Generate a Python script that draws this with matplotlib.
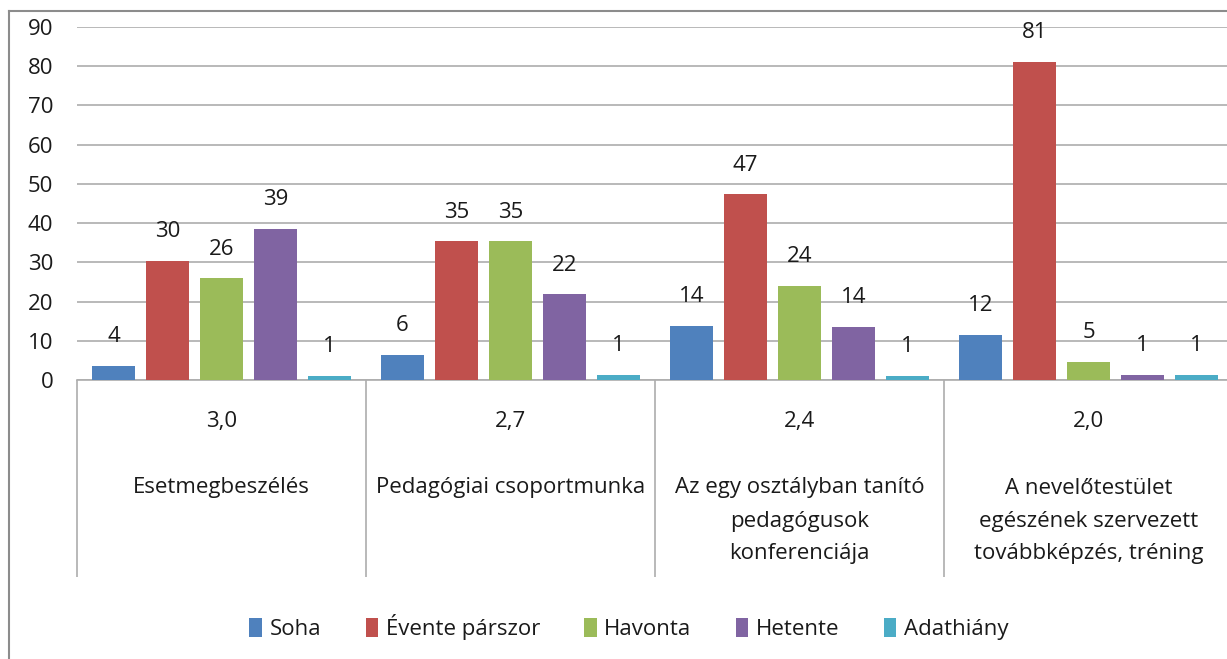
import matplotlib.pyplot as plt
import numpy as np
from matplotlib.lines import Line2D

categories = [
    'Esetmegbeszélés',
    'Pedagógiai csoportmunka',
    'Az egy osztályban tanító\npedagógusok\nkonferenciája',
    'A nevelőtestület\negészének szervezett\ntovábbképzés, tréning',
]
scores = ['3,0', '2,7', '2,4', '2,0']
series = ['Soha', 'Évente párszor', 'Havonta', 'Hetente', 'Adathiány']
values = {
    'Soha': [3.6, 6.4, 13.8, 11.6],
    'Évente párszor': [30.4, 35.4, 47.4, 81.2],
    'Havonta': [25.9, 35.4, 24.0, 4.6],
    'Hetente': [38.6, 21.8, 13.6, 1.4],
    'Adathiány': [1.1, 1.4, 1.1, 1.4],
}
colors = ['#4F81BD', '#C0504D', '#9BBB59', '#8064A2', '#4BACC6']

plt.rcParams['font.family'] = ['Open Sans', 'DejaVu Sans']
plt.rcParams['font.size'] = 16

W, H = 1227, 659
fig = plt.figure(figsize=(W / 100, H / 100), dpi=100)
fig.patch.set_facecolor('white')

# plot area: x 77..1233 px, y 27..380 px
ax = fig.add_axes([77 / W, 1 - 380 / H, 1156 / W, 353 / H])
ax.set_facecolor('white')

x = np.arange(len(categories))
step = 0.187
width = 0.149
for i, (name, c) in enumerate(zip(series, colors)):
    vals = values[name]
    xs = x + (i - 2) * step
    ax.bar(xs, vals, width=width, color=c, zorder=3, label=name)
    for xi, v in zip(xs, vals):
        ax.annotate(f'{v:.0f}', (xi, v), xytext=(0, 29), textcoords='offset pixels',
                    ha='center', va='center', color='#1a1a1a')

ax.set_xlim(-0.5, len(categories) - 0.5)
ax.set_ylim(0, 90)
ax.set_yticks(np.arange(0, 91, 10))
ax.yaxis.grid(True, color='#ADADAD', linewidth=1.2, zorder=0)
ax.set_axisbelow(True)
ax.tick_params(axis='y', length=0, pad=17, labelcolor='#1a1a1a')
ax.set_xticks([])
for s in ['top', 'right', 'left']:
    ax.spines[s].set_visible(False)
ax.spines['bottom'].set_color('#ADADAD')
ax.spines['bottom'].set_linewidth(1.2)

# category table below the axis
tr = ax.get_xaxis_transform()
px = 1 / 353
ax.vlines(np.arange(len(categories) + 1) - 0.5, -(577 - 380) * px, 0,
          transform=tr, colors='#ADADAD', linewidth=1.2, clip_on=False)
for xi, sc, cat in zip(x, scores, categories):
    ax.text(xi, -(422 - 380) * px, sc, transform=tr, ha='center', va='center',
            color='#1a1a1a')
    for k, line in enumerate(cat.split('\n')):
        ax.text(xi, -(488 + 33 * k - 380) * px, line, transform=tr,
                ha='center', va='center', color='#1a1a1a')

fig.legend(loc='center', bbox_to_anchor=(629 / W, 1 - 627 / H), ncol=5,
           frameon=False, handlelength=0.55, handleheight=0.9, handletextpad=0.35,
           columnspacing=2.0, labelcolor='#1a1a1a')

# outer chart frame
fig.add_artist(Line2D([9 / W, 9 / W], [0, 1 - 11 / H], transform=fig.transFigure,
                      color='#8C8C8C', linewidth=1.5))
fig.add_artist(Line2D([9 / W, 1], [1 - 11 / H, 1 - 11 / H], transform=fig.transFigure,
                      color='#8C8C8C', linewidth=1.5))

fig.savefig('out.png', dpi=100)
